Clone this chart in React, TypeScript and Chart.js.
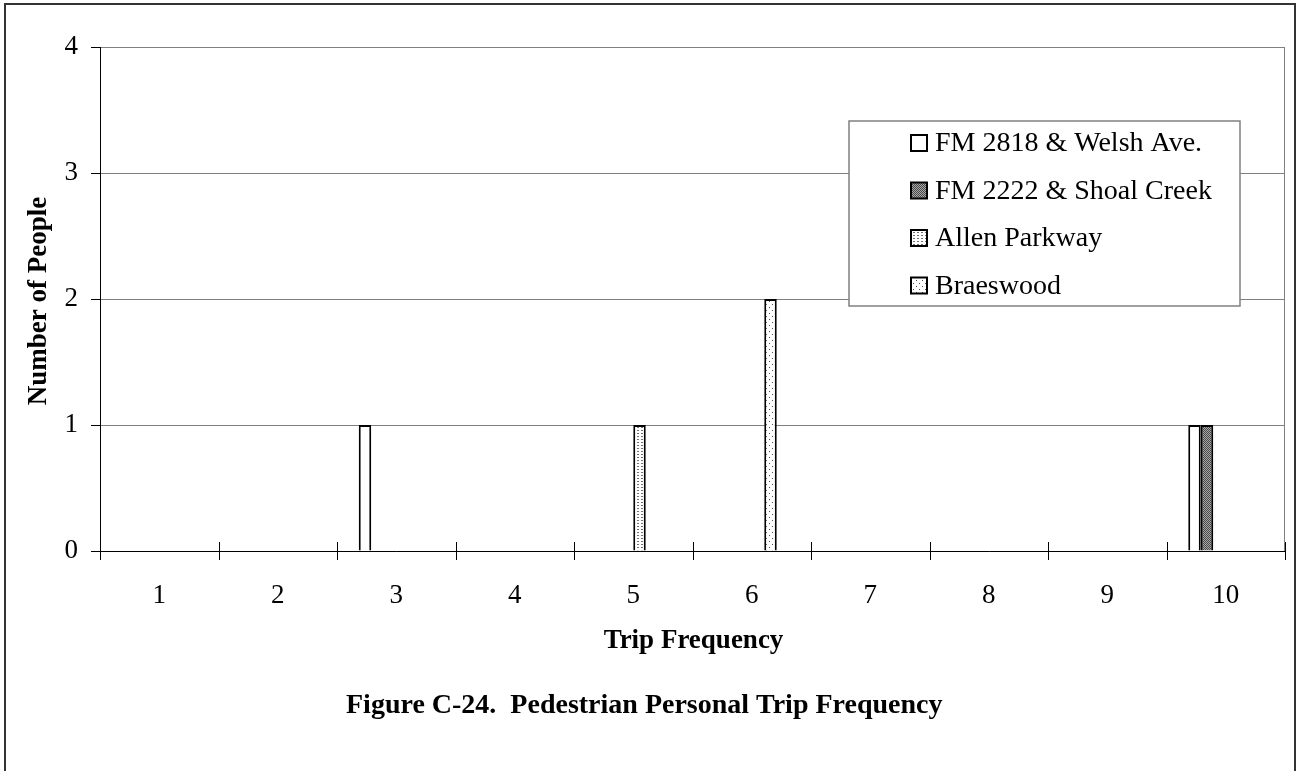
import React, { useEffect, useRef } from 'react';
import { Chart, registerables } from 'chart.js';

Chart.register(...registerables);

const categories = ['1', '2', '3', '4', '5', '6', '7', '8', '9', '10'];
const seriesNames = ['FM 2818 & Welsh Ave.', 'FM 2222 & Shoal Creek', '', 'Allen Parkway', 'Braeswood', ''];
const fm2818Welsh = [0, 0, 1, 0, 0, 0, 0, 0, 0, 1];
const fm2222ShoalCreek = [0, 0, 0, 0, 0, 0, 0, 0, 0, 1];
const blankSeriesA = [0, 0, 0, 0, 0, 0, 0, 0, 0, 0];
const allenParkway = [0, 0, 0, 0, 1, 0, 0, 0, 0, 0];
const braeswood = [0, 0, 0, 0, 0, 2, 0, 0, 0, 0];
const blankSeriesB = [0, 0, 0, 0, 0, 0, 0, 0, 0, 0];
const yTickValues = [0, 1, 2, 3, 4];
const xTitle = 'Trip Frequency';
const yTitle = 'Number of People';
const caption = 'Figure C-24.  Pedestrian Personal Trip Frequency';

const FONT = "'Liberation Serif', 'Times New Roman', serif";

function makePattern(kind: string): any {
  if (kind === 'white') return '#ffffff';
  const c = document.createElement('canvas');
  const ctx = c.getContext('2d')!;
  if (kind === 'dark') {
    c.width = 2; c.height = 2;
    ctx.fillStyle = '#a8a8a8'; ctx.fillRect(0, 0, 2, 2);
    ctx.fillStyle = '#484848'; ctx.fillRect(0, 0, 1, 1); ctx.fillRect(1, 1, 1, 1);
  } else if (kind === 'dense') {
    c.width = 4; c.height = 3;
    ctx.fillStyle = '#ffffff'; ctx.fillRect(0, 0, 4, 3);
    ctx.fillStyle = '#707070'; ctx.fillRect(1, 1, 2, 1);
  } else if (kind === 'sparse') {
    c.width = 6; c.height = 6;
    ctx.fillStyle = '#ffffff'; ctx.fillRect(0, 0, 6, 6);
    ctx.fillStyle = '#505050'; ctx.fillRect(1, 1, 1, 1); ctx.fillRect(4, 4, 1, 1);
  } else {
    return '#ffffff';
  }
  return ctx.createPattern(c, 'repeat');
}

const seriesKinds = ['white', 'dark', 'white', 'dense', 'sparse', 'white'];

const framePlugin = {
  id: 'frame',
  beforeDraw(chart: any) {
    const ctx = chart.ctx;
    ctx.save();
    ctx.fillStyle = '#ffffff';
    ctx.fillRect(0, 0, chart.width, chart.height);
    ctx.strokeStyle = '#333333';
    ctx.lineWidth = 2;
    ctx.beginPath();
    ctx.moveTo(5, chart.height + 2);
    ctx.lineTo(5, 4);
    ctx.lineTo(1295, 4);
    ctx.lineTo(1295, chart.height + 2);
    ctx.stroke();
    ctx.restore();
  },
  afterDraw(chart: any) {
    const ctx = chart.ctx;
    const area = chart.chartArea;
    const xs = chart.scales.x;
    ctx.save();
    // right plot border
    ctx.strokeStyle = '#808080';
    ctx.lineWidth = 1;
    ctx.beginPath();
    ctx.moveTo(Math.round(area.right) - 0.5, area.top);
    ctx.lineTo(Math.round(area.right) - 0.5, area.bottom);
    ctx.stroke();
    // cross tick marks at category boundaries
    ctx.strokeStyle = '#000000';
    const n = categories.length;
    for (let i = 0; i <= n; i++) {
      const px = Math.round(xs.left + (i * xs.width) / n) + 0.5;
      ctx.beginPath();
      ctx.moveTo(px, area.bottom - 9);
      ctx.lineTo(px, area.bottom + 9);
      ctx.stroke();
    }
    // axis titles
    ctx.fillStyle = '#000000';
    ctx.font = `bold 27px ${FONT}`;
    ctx.textAlign = 'center';
    ctx.textBaseline = 'alphabetic';
    ctx.fillText(xTitle, (area.left + area.right) / 2 + 1, 648);
    ctx.save();
    ctx.translate(46, (area.top + area.bottom) / 2 + 2);
    ctx.rotate(-Math.PI / 2);
    ctx.fillText(yTitle, 0, 0);
    ctx.restore();
    ctx.font = `bold 28px ${FONT}`;
    ctx.textAlign = 'left';
    ctx.fillText(caption, 346, 713);

    // legend
    const box = { left: 849, top: 121, right: 1240, bottom: 306 };
    ctx.fillStyle = '#ffffff';
    ctx.fillRect(box.left, box.top, box.right - box.left, box.bottom - box.top);
    ctx.strokeStyle = '#808080';
    ctx.lineWidth = 1.5;
    ctx.strokeRect(box.left, box.top, box.right - box.left, box.bottom - box.top);
    ctx.font = `28px ${FONT}`;
    ctx.textBaseline = 'middle';
    let row = 0;
    chart.data.datasets.forEach((ds: any) => {
      if (!ds.label) return;
      const cy = 143 + row * 47.5;
      ctx.fillStyle = ds.backgroundColor;
      ctx.fillRect(911, cy - 8, 16, 16);
      ctx.strokeStyle = '#000000';
      ctx.lineWidth = 2;
      ctx.strokeRect(911, cy - 8, 16, 16);
      ctx.fillStyle = '#000000';
      ctx.fillText(ds.label, 935, cy + 1);
      row++;
    });
    ctx.restore();
  },
};

export default function App() {
  const ref = useRef<HTMLCanvasElement | null>(null);
  useEffect(() => {
    if (!ref.current) return;
    const seriesData = [fm2818Welsh, fm2222ShoalCreek, blankSeriesA, allenParkway, braeswood, blankSeriesB];
    const chart = new Chart(ref.current, {
      type: 'bar',
      data: {
        labels: categories,
        datasets: seriesData.map((d, i) => ({
          label: seriesNames[i],
          data: d,
          backgroundColor: makePattern(seriesKinds[i]),
          borderColor: '#000000',
          borderWidth: 2,
          barPercentage: 1,
          categoryPercentage: 0.633,
        })),
      },
      options: {
        responsive: false,
        animation: false,
        devicePixelRatio: 1,
        layout: { padding: { left: 0, top: 47, right: 17, bottom: 0 } },
        plugins: { legend: { display: false }, tooltip: { enabled: false }, title: { display: false } },
        scales: {
          x: {
            type: 'category',
            offset: true,
            afterFit: (s: any) => { s.height = 220; },
            grid: { display: false, offset: true },
            border: { display: true, color: '#000000', width: 1 },
            ticks: { color: '#000000', font: { family: FONT, size: 27 }, padding: 21, maxRotation: 0, autoSkip: false },
          },
          y: {
            min: yTickValues[0],
            max: yTickValues[yTickValues.length - 1],
            afterFit: (s: any) => { s.width = 100; },
            afterBuildTicks: (s: any) => { s.ticks = yTickValues.map((v) => ({ value: v })); },
            grid: { color: '#808080', lineWidth: 1, tickLength: 9, tickColor: '#000000' },
            border: { display: true, color: '#000000', width: 1 },
            ticks: { color: '#000000', font: { family: FONT, size: 27 }, padding: 13, stepSize: 1 },
          },
        },
      },
      plugins: [framePlugin],
    } as any);
    return () => chart.destroy();
  }, []);
  return (
    <div style={{ position: 'absolute', left: 0, top: 0, width: 1302, height: 771 }}>
      <canvas ref={ref} width={1302} height={771} />
    </div>
  );
}
